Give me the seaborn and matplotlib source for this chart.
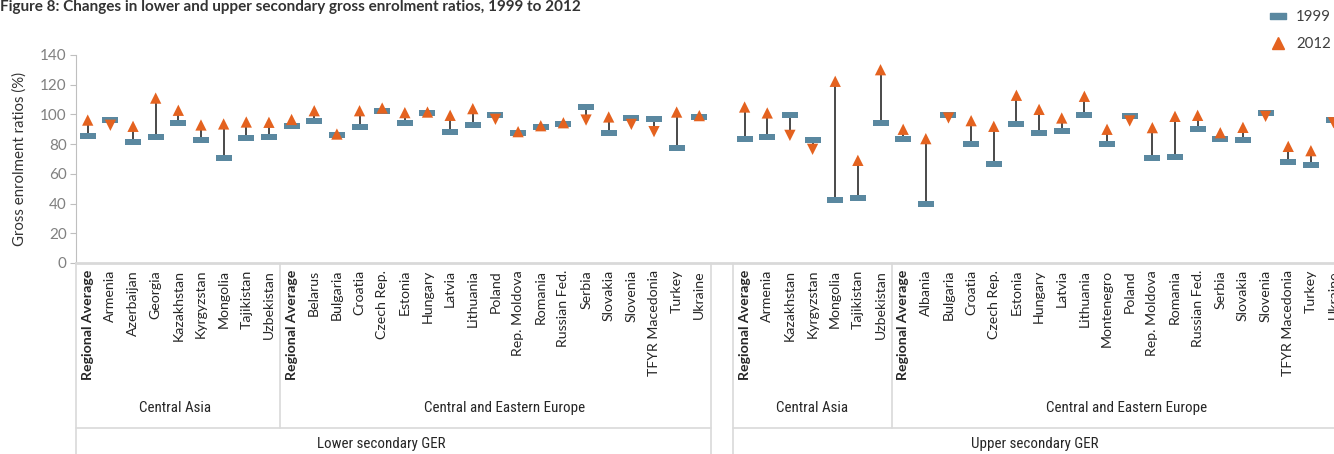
import matplotlib.pyplot as plt
import numpy as np
import pandas as pd
import seaborn as sns
from matplotlib.lines import Line2D
from matplotlib.path import Path

# Values (gross enrolment ratio, %)
LOWER_CA = ["Regional Average", "Armenia", "Azerbaijan", "Georgia", "Kazakhstan",
            "Kyrgyzstan", "Mongolia", "Tajikistan", "Uzbekistan"]
LOWER_CA_1999 = [85.3, 96.0, 81.2, 84.6, 94.0, 82.6, 70.4, 83.9, 84.6]
LOWER_CA_2012 = [96.2, 92.7, 92.0, 111.0, 102.8, 92.9, 93.6, 94.9, 94.7]

LOWER_CEE = ["Regional Average", "Belarus", "Bulgaria", "Croatia", "Czech Rep.",
             "Estonia", "Hungary", "Latvia", "Lithuania", "Poland", "Rep. Moldova",
             "Romania", "Russian Fed.", "Serbia", "Slovakia", "Slovenia",
             "TFYR Macedonia", "Turkey", "Ukraine"]
LOWER_CEE_1999 = [92.0, 95.4, 85.9, 91.3, 102.1, 94.0, 100.7, 88.0, 92.7, 99.4,
                  87.3, 91.3, 93.3, 104.8, 87.3, 97.4, 96.7, 77.2, 98.1]
LOWER_CEE_2012 = [96.6, 102.5, 86.8, 102.5, 104.3, 101.2, 101.6, 99.4, 103.9, 96.7,
                  88.4, 92.4, 94.4, 96.2, 98.3, 93.3, 88.4, 101.6, 99.2]

UPPER_CA = ["Regional Average", "Armenia", "Kazakhstan", "Kyrgyzstan", "Mongolia",
            "Tajikistan", "Uzbekistan"]
UPPER_CA_1999 = [83.2, 84.6, 99.4, 82.6, 42.2, 43.5, 94.0]
UPPER_CA_2012 = [105.0, 101.0, 85.9, 76.5, 122.3, 69.1, 130.1]

UPPER_CEE = ["Regional Average", "Albania", "Bulgaria", "Croatia", "Czech Rep.",
             "Estonia", "Hungary", "Latvia", "Lithuania", "Montenegro", "Poland",
             "Rep. Moldova", "Romania", "Russian Fed.", "Serbia", "Slovakia",
             "Slovenia", "TFYR Macedonia", "Turkey", "Ukraine"]
UPPER_CEE_1999 = [83.2, 39.5, 99.4, 79.9, 66.4, 93.3, 87.3, 88.6, 99.4, 79.9, 98.7,
                  70.4, 71.1, 90.0, 83.2, 82.6, 100.7, 67.8, 65.8, 96.0]
UPPER_CEE_2012 = [90.0, 83.7, 97.6, 95.8, 92.0, 112.9, 103.4, 97.6, 112.2, 90.0, 95.6,
                  91.1, 98.7, 99.4, 87.7, 91.3, 98.7, 78.5, 75.6, 94.4]

REGION_LABELS = ["Central Asia", "Central and Eastern Europe",
                 "Central Asia", "Central and Eastern Europe"]
LEVEL_LABELS = ["Lower secondary GER", "Upper secondary GER"]

TITLE = "Figure 8: Changes in lower and upper secondary gross enrolment ratios, 1999 to 2012"

BLUE = "#5A88A0"
ORANGE = "#E4621F"
GRID_GREY = "#d9d9d9"

sns.set_style("white")
plt.rcParams["font.family"] = ["Lato", "DejaVu Sans"]

# one blank slot between the lower and upper secondary blocks
groups = [
    (LOWER_CA, LOWER_CA_1999, LOWER_CA_2012),
    (LOWER_CEE, LOWER_CEE_1999, LOWER_CEE_2012),
    None,
    (UPPER_CA, UPPER_CA_1999, UPPER_CA_2012),
    (UPPER_CEE, UPPER_CEE_1999, UPPER_CEE_2012),
]
rows = []
pos = 0
for g in groups:
    if g is None:
        pos += 1
        continue
    names, v99, v12 = g
    for n, a, b in zip(names, v99, v12):
        rows.append({"pos": pos, "label": n, "v1999": a, "v2012": b,
                     "dir": "up" if b >= a else "down"})
        pos += 1
df = pd.DataFrame(rows)

fig = plt.figure(figsize=(13.34, 4.54), dpi=100)
ax = fig.add_axes([76.4 / 1334, 1 - 263 / 454, 1 - 76.4 / 1334, 208 / 454])

ax.vlines(df["pos"], df["v1999"], df["v2012"], color="#3a3a3a", lw=1.3, zorder=1)

bar_marker = Path([(-1.6, -0.5), (1.6, -0.5), (1.6, 0.5), (-1.6, 0.5), (-1.6, -0.5)],
                  [Path.MOVETO, Path.LINETO, Path.LINETO, Path.LINETO, Path.CLOSEPOLY])

sns.scatterplot(data=df, x="pos", y="v1999", marker=bar_marker, s=135, color=BLUE,
                linewidth=0, ax=ax, zorder=3, legend=False)
sns.scatterplot(data=df, x="pos", y="v2012", style="dir", markers={"up": "^", "down": "v"},
                s=66, color=ORANGE, linewidth=0, ax=ax, zorder=4, legend=False)

ax.set_xlabel("")
ax.set_ylabel("")

ax.set_xticks(df["pos"])
ax.set_xticklabels(df["label"], rotation=90, fontsize=10.2, color="#262626")
for t in ax.get_xticklabels():
    if t.get_text() == "Regional Average":
        t.set_fontweight("bold")
ax.set_xticks(np.arange(-0.5, 56, 1), minor=True)
ax.tick_params(axis="x", which="major", length=0, pad=5)
ax.tick_params(axis="x", which="minor", length=5, color=GRID_GREY, width=1)
ax.set_yticks(range(0, 141, 20))
ax.tick_params(axis="y", length=4, color="#bfbfbf", labelcolor="#808080",
               labelsize=11, pad=3, left=True)

# limits set after the ticks (set_xticks widens the view); the right end of
# the chart runs off the picture, as in the reference
ax.set_xlim(-0.5, 55.02)
ax.set_ylim(0, 140)

sns.despine(ax=ax)
ax.spines["left"].set_color("#bfbfbf")
ax.spines["bottom"].set_color(GRID_GREY)
ax.spines["bottom"].set_linewidth(2)

# category group dividers under the axis
trans = ax.get_xaxis_transform()
row_line = -0.793
for x in [-0.5, 27.5, 28.5]:
    ax.plot([x, x], [0, -1.1], transform=trans, color=GRID_GREY, lw=1.2, clip_on=False)
for x in [8.5, 35.5]:
    ax.plot([x, x], [0, row_line], transform=trans, color=GRID_GREY, lw=1.2, clip_on=False)
ax.plot([-0.5, 27.5], [row_line, row_line], transform=trans, color=GRID_GREY, lw=1.2,
        clip_on=False)
ax.plot([28.5, 56.5], [row_line, row_line], transform=trans, color=GRID_GREY, lw=1.2,
        clip_on=False)

region_x = [3.86, 18.4, 31.96, 45.85]
for x, lab in zip(region_x, REGION_LABELS):
    ax.text(x, -0.697, lab, transform=trans, ha="center", va="center", fontsize=10.8,
            color="#262626", family=["Roboto Condensed", "Roboto", "DejaVu Sans"])
for x, lab in zip([12.97, 41.8], LEVEL_LABELS):
    ax.text(x, -0.870, lab, transform=trans, ha="center", va="center", fontsize=10.8,
            color="#262626", family=["Roboto Condensed", "Roboto", "DejaVu Sans"])

fig.text(20 / 1334, 1 - 159 / 454, "Gross enrolment ratios (%)", rotation=90,
         ha="center", va="center", fontsize=10.8, color="#333333")
fig.text(0.0, 1.0, TITLE, ha="left", va="top", fontsize=11, fontweight="bold",
         color="#333333")

handles = [
    Line2D([], [], marker=bar_marker, markersize=11.6, color=BLUE, ls=""),
    Line2D([], [], marker="^", markersize=8.1, color=ORANGE, ls=""),
]
fig.legend(handles, ["1999", "2012"], loc="upper right", bbox_to_anchor=(1.0, 0.985),
           frameon=False, fontsize=10.8, labelspacing=0.9, handlelength=1.2,
           handletextpad=0.6, borderaxespad=0.1, borderpad=0.1, labelcolor="#404040")

fig.savefig("out.png", dpi=100)
